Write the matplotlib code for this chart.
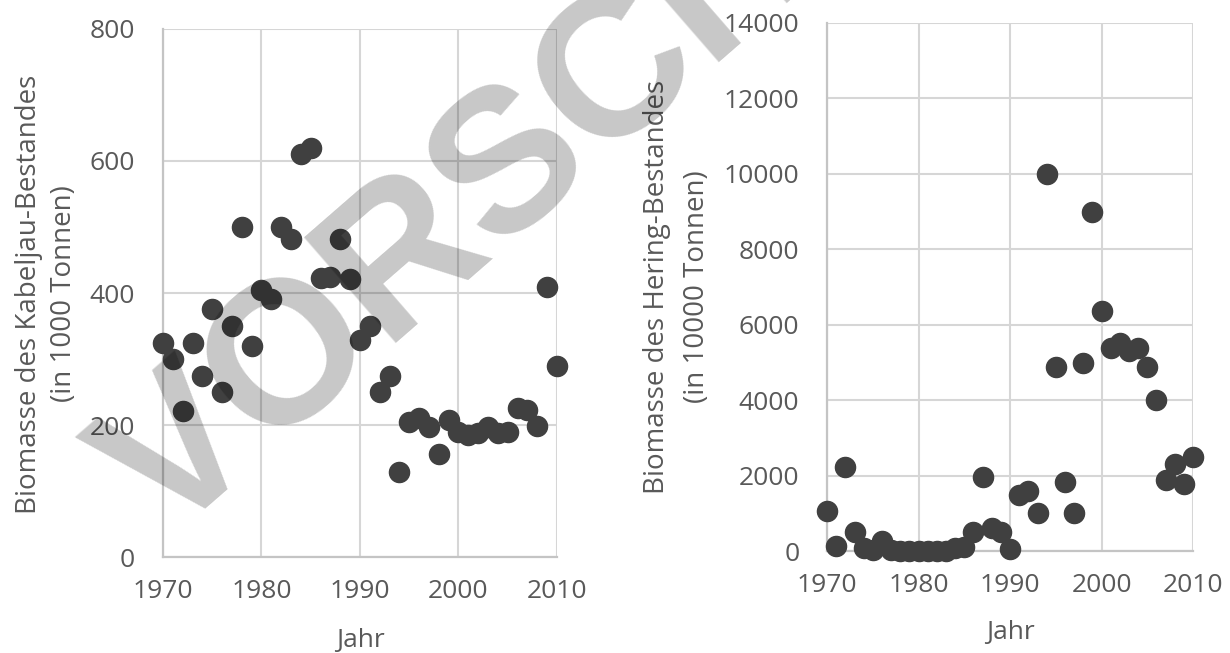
import matplotlib.pyplot as plt
import numpy as np

# ---------------------------- data ----------------------------
years = np.arange(1970, 2011)

kabeljau = [325, 300, 221, 324, 274, 376, 250, 350, 500, 320,
            405, 391, 500, 482, 611, 620, 423, 424, 482, 421,
            329, 350, 250, 274, 129, 205, 211, 197, 156, 208,
            189, 185, 188, 197, 188, 189, 226, 223, 198, 409,
            289]

hering = [1050, 130, 2225, 500, 80, 30, 265, 20, 0, 0,
          0, 0, 0, 10, 80, 100, 500, 1950, 600, 500,
          50, 1480, 1590, 1000, 9990, 4870, 1830, 1000, 4980, 8980,
          6360, 5380, 5510, 5300, 5380, 4870, 4000, 1880, 2300, 1780,
          2490]

xticks = [1970, 1980, 1990, 2000, 2010]
yticks_left = [0, 200, 400, 600, 800]
yticks_right = [0, 2000, 4000, 6000, 8000, 10000, 12000, 14000]

plt.rcParams['font.family'] = ['Open Sans', 'DejaVu Sans']

dot = '#404040'
grid = '#d6d6d6'
txt = '#595959'

W, H = 1230, 653
fig = plt.figure(figsize=(12.3, 6.53), dpi=100)
ax1 = fig.add_axes([0.1325, 0.147, 0.3203, 0.8086])
ax2 = fig.add_axes([0.6724, 0.1562, 0.2976, 0.8086])


def style(ax, yt):
    ax.set_xlim(1970, 2010)
    ax.set_ylim(yt[0], yt[-1])
    ax.set_xticks(xticks)
    ax.set_yticks(yt)
    ax.grid(True, color=grid, linewidth=1.5)
    ax.set_axisbelow(True)
    for s in ['top', 'right']:
        ax.spines[s].set_visible(False)
    for s in ['left', 'bottom']:
        ax.spines[s].set_color('#c4c4c4')
        ax.spines[s].set_linewidth(1.6)
    ax.tick_params(length=0, labelsize=19, colors=txt)
    ax.tick_params(axis='x', pad=16)
    ax.tick_params(axis='y', pad=20)


ax1.scatter(years, kabeljau, s=210, color=dot, clip_on=False, zorder=3)
style(ax1, yticks_left)

ax2.scatter(years, hering, s=210, color=dot, clip_on=False, zorder=3)
style(ax2, yticks_right)


def ftext(x, y, s, **kw):
    fig.text(x / W, 1 - y / H, s, color=txt, ha='center', va='center', **kw)


# axis titles, placed in pixel positions
ftext(29, 294, 'Biomasse des Kabeljau-Bestandes', fontsize=20, rotation=90)
ftext(64, 294, '(in 1000 Tonnen)', fontsize=20, rotation=90)
ftext(360, 640, 'Jahr', fontsize=19)

ftext(657, 287, 'Biomasse des Hering-Bestandes', fontsize=20, rotation=90)
ftext(697, 287, '(in 10000 Tonnen)', fontsize=20, rotation=90)
ftext(1010, 632, 'Jahr', fontsize=19)

# watermark
fig.text(165 / W, 1 - 542 / H, 'VORSCHAU', fontsize=146, fontweight='bold',
         color='black', alpha=0.22, rotation=41, rotation_mode='anchor',
         ha='left', va='baseline', family='Liberation Sans')

fig.savefig('out.png', dpi=100)
